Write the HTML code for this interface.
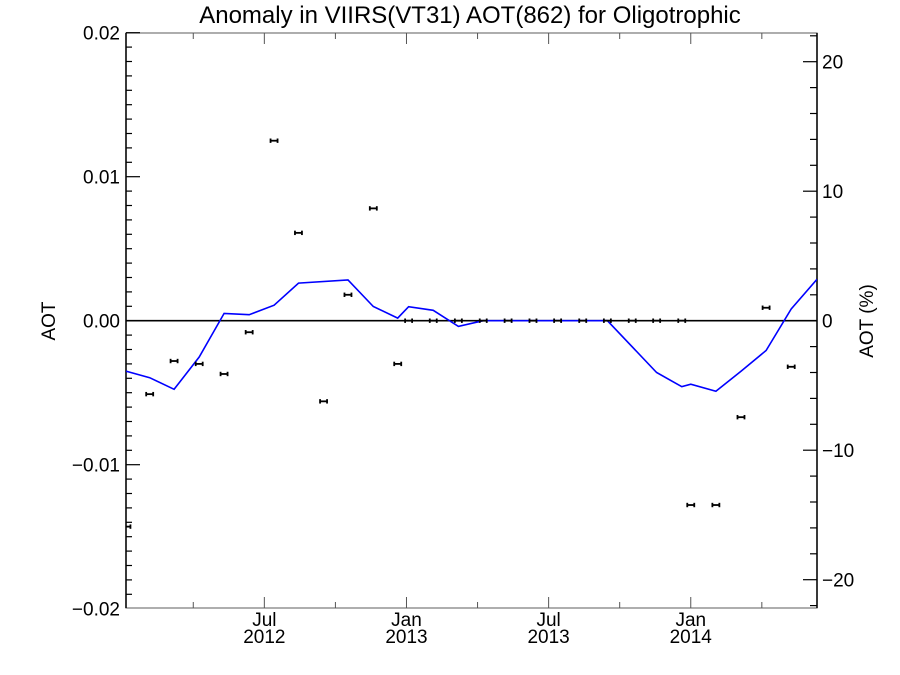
<!DOCTYPE html>
<html><head><meta charset="utf-8"><style>
body{margin:0;background:#fff;}
svg{display:block;font-family:"Liberation Sans",sans-serif;}
</style></head><body>
<svg id="chart" width="900" height="675" viewBox="0 0 900 675">
<text x="470" y="23" font-size="24" text-anchor="middle">Anomaly in VIIRS(VT31) AOT(862) for Oligotrophic</text>
<text transform="translate(55,321) rotate(-90)" font-size="19" text-anchor="middle">AOT</text>
<text transform="translate(873,321) rotate(-90)" font-size="19" text-anchor="middle">AOT (%)</text>
<g id="axes"></g>
<g id="marks"></g>
</svg>
<script>
// point data: x in months since Jan 2012, AOT anomaly
const pointMonths=[0.2,1.16,2.19,3.25,4.3,5.36,6.41,7.44,8.5,9.53,10.6,11.63,12.09,13.13,14.19,15.24,16.29,17.34,18.38,19.44,20.48,21.53,22.56,23.62,24.0,25.06,26.12,27.18,28.24];
const pointValues=[-0.0143,-0.0051,-0.0028,-0.0030,-0.0037,-0.0008,0.0125,0.0061,-0.0056,0.0018,0.0078,-0.0030,0,0,0,0,0,0,0,0,0,0,0,0,-0.0128,-0.0128,-0.0067,0.0009,-0.0032];
// line data (percent, right axis)
const lineMonths=[0.16,1.16,2.19,3.25,4.3,5.36,6.41,7.44,9.53,10.6,11.63,12.09,13.13,14.19,15.24,20.48,22.56,23.62,24.0,25.06,26.12,27.18,28.24,29.33];
const linePercent=[-3.9,-4.4,-5.3,-2.8,0.56,0.46,1.2,2.9,3.14,1.1,0.2,1.08,0.8,-0.44,0,0,-4.0,-5.1,-4.9,-5.45,-3.9,-2.3,0.9,3.2];
const xTickMonths=[6,12,18,24];
const xTickLabels=[["Jul","2012"],["Jan","2013"],["Jul","2013"],["Jan","2014"]];
const xMinorMonths=[3,9,15,21,27];
const leftTicks=[-0.02,-0.01,0,0.01,0.02];
const leftLabels=["\u22120.02","\u22120.01","0.00","0.01","0.02"];
const rightTicks=[-20,-10,0,10,20];
const rightLabels=["\u221220","\u221210","0","10","20"];

const L=126,R=817,T=33,B=608;
const X=m=>122.2+m*23.69;
const Y=v=>320.7-v*14400;
const YP=p=>320.7-p*12.95;
const NS="http://www.w3.org/2000/svg";
const axes=document.getElementById('axes'),marks=document.getElementById('marks');
function mk(tag,attrs,parent){const e=document.createElementNS(NS,tag);for(const k in attrs)e.setAttribute(k,attrs[k]);parent.appendChild(e);return e;}

const defs=mk('defs',{},axes);const cp=mk('clipPath',{id:'pc'},defs);mk('rect',{x:L,y:T,width:R-L,height:B-T},cp);

let f=mk('rect',{x:L,y:T,width:R-L,height:B-T,fill:'none',stroke:'#777','stroke-width':1.2},axes);


let la=mk('line',{x1:L,y1:T,x2:L,y2:B,stroke:'#000','stroke-width':1.5},axes);


let ra=mk('line',{x1:R,y1:T,x2:R,y2:B,stroke:'#000','stroke-width':1.5},axes);



for(let i=-20;i<=20;i++){const y=Y(i*0.001);if(y<T-0.5||y>B+0.5)continue;const len=(i%10===0)?14:6;
 mk('line',{x1:L,y1:y,x2:L+len,y2:y,stroke:'#000','stroke-width':1.2},axes);}
leftTicks.forEach((v,i)=>{const t=mk('text',{x:L-6,y:Y(v)+7,'font-size':19,'text-anchor':'end'},axes);t.textContent=leftLabels[i];
 
 });
for(let p=-22;p<=22;p+=2){const y=YP(p);if(y<T||y>B)continue;const len=(p%10===0)?14:7;
 mk('line',{x1:R,y1:y,x2:R-len,y2:y,stroke:'#000','stroke-width':1.2},axes);}
rightTicks.forEach((v,i)=>{const t=mk('text',{x:R+5,y:YP(v)+7,'font-size':19,'text-anchor':'start'},axes);t.textContent=rightLabels[i];
 
 });
xTickMonths.forEach((m,i)=>{const x=X(m);
 mk('line',{x1:x,y1:B,x2:x,y2:B-11,stroke:'#555','stroke-width':1},axes);
 mk('line',{x1:x,y1:T,x2:x,y2:T+11,stroke:'#555','stroke-width':1},axes);
 const t=mk('text',{x:x,y:B+18,'font-size':19,'text-anchor':'middle'},axes);
 
 
 mk('tspan',{x:x,dy:0},t).textContent=xTickLabels[i][0];
 mk('tspan',{x:x,dy:17},t).textContent=xTickLabels[i][1];});
xMinorMonths.forEach(m=>{const x=X(m);
 mk('line',{x1:x,y1:B,x2:x,y2:B-6,stroke:'#555','stroke-width':1},axes);
 mk('line',{x1:x,y1:T,x2:x,y2:T+6,stroke:'#555','stroke-width':1},axes);});

let z=mk('line',{x1:L,y1:Y(0),x2:R,y2:Y(0),stroke:'#000','stroke-width':1.6},marks);



const pts=lineMonths.map((m,i)=>X(m).toFixed(1)+','+YP(linePercent[i]).toFixed(1)).join(' ');
let pl=mk('polyline',{points:pts,fill:'none',stroke:'#0000ff','stroke-width':1.6,'clip-path':'url(#pc)'},marks);



pointMonths.forEach((m,i)=>{const x=X(m),y=Y(pointValues[i]);
 const g=mk('g',{'clip-path':'url(#pc)',stroke:'#000','stroke-width':1.8},marks);
 
 
 mk('line',{x1:x-3.5,y1:y,x2:x+3.5,y2:y},g);
 mk('line',{x1:x-3.5,y1:y-2.2,x2:x-3.5,y2:y+2.2},g);
 mk('line',{x1:x+3.5,y1:y-2.2,x2:x+3.5,y2:y+2.2},g);});
</script>
</body></html>
